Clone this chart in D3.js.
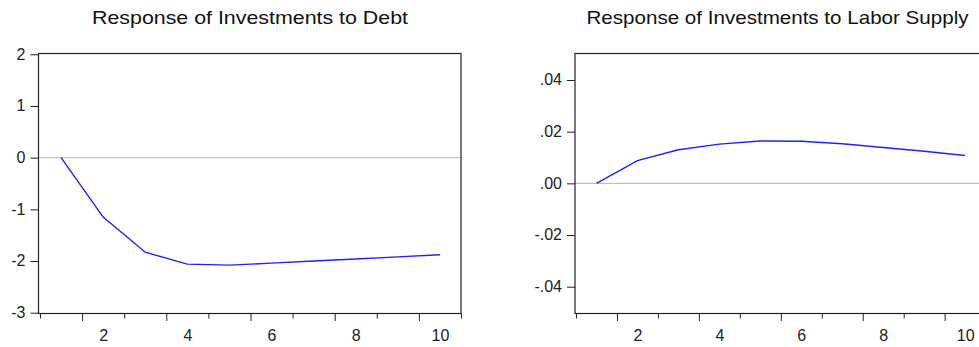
<!DOCTYPE html>
<html>
<head>
<meta charset="utf-8">
<script src="https://cdn.jsdelivr.net/npm/d3@7"></script>
<style>
  html, body { margin: 0; padding: 0; background: #fff; }
  svg { display: block; font-family: "Liberation Sans", Arial, sans-serif; }
</style>
</head>
<body>
<svg id="chart" width="979" height="347"></svg>
<script>
// ---- Data ----
const periods = [1, 2, 3, 4, 5, 6, 7, 8, 9, 10];
const debtResponse = [0, -1.15, -1.83, -2.06, -2.08, -2.04, -2.00, -1.96, -1.92, -1.88];
const laborResponse = [0, 0.0088, 0.0130, 0.0152, 0.0164, 0.0163, 0.0153, 0.0139, 0.0124, 0.0108];
const xTickLabels = [2, 4, 6, 8, 10];
const yTicksDebt = [-3, -2, -1, 0, 1, 2];
const yLabelsDebt = ["-3", "-2", "-1", "0", "1", "2"];
const yTicksLabor = [-0.04, -0.02, 0, 0.02, 0.04];
const yLabelsLabor = ["-.04", "-.02", ".00", ".02", ".04"];
const titles = ["Response of Investments to Debt", "Response of Investments to Labor Supply"];

const svg = d3.select("#chart");

const panels = [
  { title: titles[0], values: debtResponse, yTicks: yTicksDebt, yLabels: yLabelsDebt,
    yDomain: [-3, 2], yRange: [312.7, 54.3], xRange: [40, 461], frameLeft: 38.5, frameRight: 461,
    titleX: 250, titleLen: 316 },
  { title: titles[1], values: laborResponse, yTicks: yTicksLabor, yLabels: yLabelsLabor,
    yDomain: [-0.04, 0.04], yRange: [286.7, 80], xRange: [576, 985.6], frameLeft: 575, frameRight: 985.6,
    titleX: 777.5, titleLen: 382 }
];

const frameTop = 53.5, frameBottom = 313.5;
const axisColor = "#222";

panels.forEach(p => {
  const g = svg.append("g");
  const x = d3.scaleLinear().domain([0.5, 10.5]).range(p.xRange);
  const y = d3.scaleLinear().domain(p.yDomain).range(p.yRange);

  // title
  g.append("text")
    .attr("x", p.titleX).attr("y", 23.5)
    .attr("text-anchor", "middle")
    .attr("font-size", 18.5)
    .attr("fill", "#111")
    .attr("textLength", p.titleLen)
    .attr("lengthAdjust", "spacingAndGlyphs")
    .text(p.title);

  // zero line
  g.append("line")
    .attr("x1", p.frameLeft).attr("x2", p.frameRight)
    .attr("y1", y(0)).attr("y2", y(0))
    .attr("stroke", "#b3b3b3").attr("stroke-width", 1);

  // frame
  g.append("rect")
    .attr("x", p.frameLeft).attr("y", frameTop)
    .attr("width", p.frameRight - p.frameLeft).attr("height", frameBottom - frameTop)
    .attr("fill", "none").attr("stroke", axisColor).attr("stroke-width", 1.2);

  // y axis ticks & labels
  const yAxis = d3.axisLeft(y)
    .tickValues(p.yTicks)
    .tickSize(8)
    .tickPadding(5)
    .tickFormat((d, i) => p.yLabels[i]);
  const ya = g.append("g").attr("transform", `translate(${p.frameLeft},0)`).call(yAxis);
  ya.select(".domain").remove();
  ya.selectAll("line").attr("stroke", axisColor);
  ya.selectAll("text").attr("font-size", 16).attr("fill", "#222")
    .attr("font-family", "'Liberation Sans', Arial, sans-serif").attr("dy", "0.3em");

  // x axis band-edge ticks (major / minor)
  const edges = d3.range(0, 11).map(i => i + 0.5);
  const majorEdges = edges.filter(e => (e - 0.5) % 2 === 1);
  const minorEdges = edges.filter(e => (e - 0.5) % 2 === 0);
  const xMinor = d3.axisBottom(x).tickValues(minorEdges).tickSize(5).tickFormat("");
  const xMajor = d3.axisBottom(x).tickValues(majorEdges).tickSize(7.5).tickFormat("");
  const xa1 = g.append("g").attr("transform", `translate(0,${frameBottom})`).call(xMinor);
  const xa2 = g.append("g").attr("transform", `translate(0,${frameBottom})`).call(xMajor);
  [xa1, xa2].forEach(a => { a.select(".domain").remove(); a.selectAll("line").attr("stroke", axisColor); });

  // x labels
  const xLab = d3.axisBottom(x).tickValues(xTickLabels).tickSize(0).tickPadding(16);
  const xa3 = g.append("g").attr("transform", `translate(0,${frameBottom})`).call(xLab);
  xa3.select(".domain").remove();
  xa3.selectAll("text").attr("font-size", 16).attr("fill", "#222")
    .attr("font-family", "'Liberation Sans', Arial, sans-serif");

  // line
  const line = d3.line().x((d, i) => x(periods[i])).y(d => y(d));
  g.append("path")
    .datum(p.values)
    .attr("d", line)
    .attr("fill", "none")
    .attr("stroke", "#2020ff")
    .attr("stroke-width", 1.4);
});
</script>
</body>
</html>
